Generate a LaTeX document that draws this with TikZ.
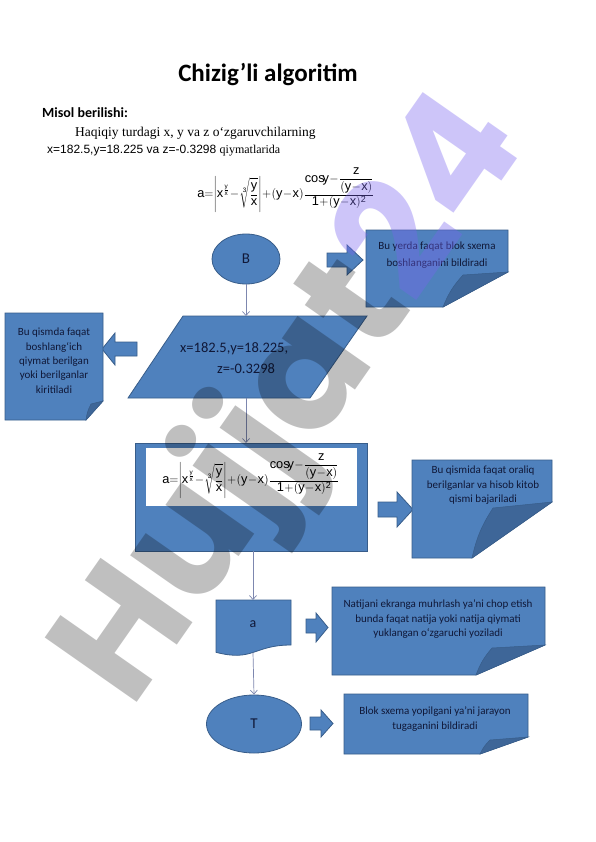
\documentclass[tikz,border=0pt]{standalone}
\usepackage{fontspec}
\setmainfont{Carlito}
\setsansfont{Liberation Sans}
\newfontfamily\tnr{Liberation Serif}
\newfontfamily\arl{Liberation Sans}
\newfontfamily\wmfont{Poppins}
\usetikzlibrary{shapes.geometric,arrows.meta}
\definecolor{shapeblue}{RGB}{79,129,189}
\definecolor{shapeedge}{RGB}{56,93,138}
\definecolor{flapblue}{RGB}{62,102,152}
\definecolor{txtnavy}{RGB}{16,24,56}
\definecolor{flowline}{RGB}{125,135,175}
\definecolor{wmpurple}{RGB}{120,100,240}
\newcommand\myformula{\thinmuskip=0mu\medmuskip=0.5mu\thickmuskip=1mu$\displaystyle\mathsf{a}{=}\left|\mathsf{x}^{\frac{\mathsf{y}}{\mathsf{x}}}-\sqrt[\mathsf{3}]{\frac{\mathsf{y}}{\mathsf{x}}}\right|+(\mathsf{y}-\mathsf{x})\frac{\mathsf{cos}\mkern-3mu\mathsf{y}-{\displaystyle\frac{\mathsf{z}}{(\mathsf{y}-\mathsf{x})}}}{\mathsf{1}+(\mathsf{y}-\mathsf{x})^{\mathsf{2}}}$}
\tikzset{
 blueshape/.style={fill=shapeblue, draw=shapeedge, line width=0.8pt},
 flapshape/.style={fill=flapblue, draw=shapeedge, line width=0.5pt},
 notetext/.style={text=txtnavy, align=center, font=\fontsize{11}{14.5}\selectfont, inner sep=0pt},
 flow/.style={draw=flowline, line width=0.7pt, -{Straight Barb[length=4pt,width=7pt]}},
 termshape/.style={ellipse, blueshape, text=txtnavy, font=\fontsize{15}{15}\selectfont, inner sep=0pt},
 shapetext/.style={text=txtnavy, inner sep=0pt},
 formula/.style={inner sep=0pt, font=\fontsize{12.8}{14}\selectfont},
 wmark/.style={inner sep=0pt, rotate=55, font=\wmfont\bfseries\fontsize{160}{160}\selectfont},
}
\begin{document}
\begin{tikzpicture}[x=1pt,y=-1pt]
\useasboundingbox (0,0) rectangle (596,842);
\fill[white] (0,0) rectangle (596,842);

% header texts
\node[font=\fontsize{25}{28}\selectfont\bfseries, anchor=base, inner sep=0pt] (title) at (268,82) {Chizig’li algoritim};
\node[font=\fontsize{14}{16}\selectfont\bfseries, anchor=base west, inner sep=0pt] (misol) at (42,118) {Misol berilishi:};
\node[font=\tnr\fontsize{13.5}{15}\selectfont, anchor=base west, inner sep=0pt] (cond1) at (75,137) {Haqiqiy turdagi x, y va z o‘zgaruvchilarning};
\node[font=\fontsize{12}{14}\selectfont, anchor=base west, inner sep=0pt] (cond2) at (47,154) {\arl x=182.5,y=18.225 va z=-0.3298 \tnr qiymatlarida};
\node[formula] (f1) at (286,190) {\myformula};

% B terminal
\node[termshape, minimum width=68, minimum height=50] (B) at (246,259) {B};
\draw[blueshape] (327,253) -- (347,253) -- (347,245) -- (363,260) -- (347,275) -- (347,267) -- (327,267) -- cycle;
\draw[blueshape] (366,230) -- (508,230) -- (508,272) -- (443,307) -- (366,307) -- cycle;
\draw[flapshape] (443,307) to[bend left=10] (463,275) -- (508,272) -- cycle;
\node[notetext, font=\fontsize{11}{17}\selectfont, anchor=north] (n1) at (437,242) {Bu yerda faqat blok sxema\\boshlanganini bildiradi};

% input parallelogram
\draw[blueshape] (183,316) -- (367,316) -- (310,398) -- (128,398) -- cycle;
\coordinate (inpTop) at (246,316);
\coordinate (inpBot) at (246,398);
\node[shapetext, align=left, anchor=north west, font=\fontsize{14.5}{21}\selectfont] (inp) at (180,342) {x=182.5,y=18.225,\\\hspace*{37pt}z=-0.3298};
\draw[blueshape] (102,349) -- (115,333) -- (115,342) -- (137,342) -- (137,356) -- (115,356) -- (115,365) -- cycle;
\draw[blueshape] (5,313) -- (103,313) -- (103,401) -- (86,420) -- (5,420) -- cycle;
\draw[flapshape] (86,420) to[bend left=10] (91,404) -- (103,401) -- cycle;
\node[notetext, font=\fontsize{11}{14.3}\selectfont, anchor=north] (n0) at (54,328) {Bu qismda faqat\\boshlang‘ich\\qiymat berilgan\\yoki berilganlar\\kiritiladi};

% process
\node[blueshape, rectangle, minimum width=232, minimum height=108, inner sep=0pt] (proc) at (251,497) {};
\fill[white] (146,448) rectangle (357,506);
\node[formula] (f2) at (251,476) {\myformula};
\draw[blueshape] (378,502) -- (397,502) -- (397,492) -- (413,509.5) -- (397,527) -- (397,517) -- (378,517) -- cycle;
\draw[blueshape] (412,460) -- (552,460) -- (552,502) -- (472,558) -- (412,558) -- cycle;
\draw[flapshape] (472,558) to[bend left=10] (493,508) -- (552,502) -- cycle;
\node[notetext, anchor=north] (n2) at (483,466) {Bu qismida faqat oraliq\\berilganlar va hisob kitob\\qismi bajariladi};

% output document
\draw[blueshape] (216,600) -- (291,600) -- (291,645) .. controls (253.5,645) and (253.5,662) .. (216,652.3) -- cycle;
\node[shapetext, font=\fontsize{14}{14}\selectfont] (out) at (253,624) {a};
\coordinate (outTop) at (253,600);
\coordinate (outBot) at (253,652.5);
\draw[blueshape] (306,619) -- (316,619) -- (316,613) -- (328,627.5) -- (316,642) -- (316,633) -- (306,633) -- cycle;
\draw[blueshape] (332,587) -- (545,587) -- (545,645) -- (476,675) -- (332,675) -- cycle;
\draw[flapshape] (476,675) to[bend left=10] (492,648) -- (545,645) -- cycle;
\node[notetext, anchor=north] (n3) at (438,600) {Natijani ekranga muhrlash ya’ni chop etish\\bunda faqat natija yoki natija qiymati\\yuklangan o‘zgaruchi yoziladi};

% T terminal
\node[termshape, minimum width=95, minimum height=58] (T) at (254,724) {T};
\draw[blueshape] (310,717) -- (321,717) -- (321,710) -- (333,723.5) -- (321,737) -- (321,730) -- (310,730) -- cycle;
\draw[blueshape] (344,694) -- (528,694) -- (528,737) -- (480,754) -- (344,754) -- cycle;
\draw[flapshape] (480,754) to[bend left=10] (490,740) -- (528,737) -- cycle;
\node[notetext, font=\fontsize{11}{15}\selectfont, anchor=north] (n4) at (435,707) {Blok sxema yopilgani ya’ni jarayon\\tugaganini bildiradi};

% connectors
\coordinate (procTop) at (246,443);
\coordinate (procBot) at (253,551);
\draw[flow] (B.south) -- (inpTop);
\draw[flow] (inpBot) -- (procTop);
\draw[flow] (procBot) -- (outTop);
\draw[flow] (outBot) -- (T.north);

% watermark
\node[wmark, text=black, text opacity=0.25] (wm1) at (295,402) {Hujjat\phantom{24}};
\node[wmark, text=wmpurple, text opacity=0.37] (wm2) at (295,402) {\phantom{Hujjat}24};
\end{tikzpicture}
\end{document}
